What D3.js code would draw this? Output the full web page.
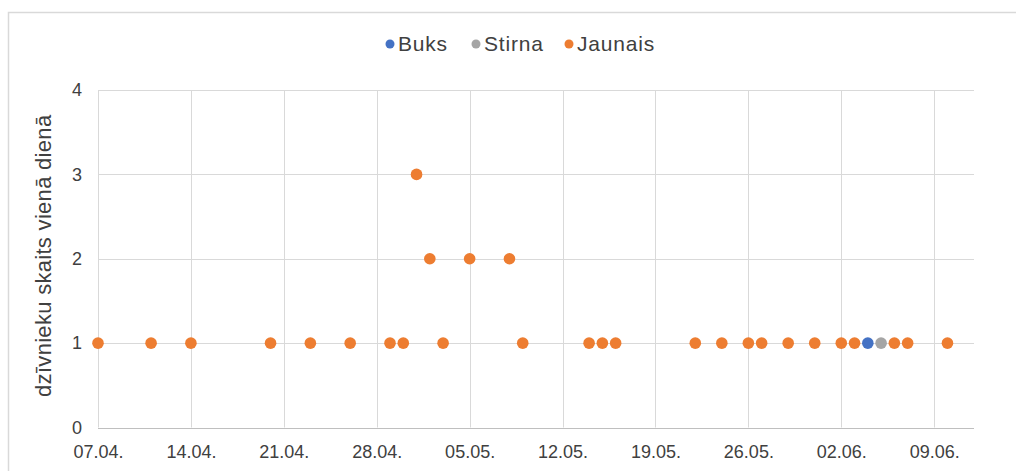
<!DOCTYPE html>
<html>
<head>
<meta charset="utf-8">
<script src="https://cdn.jsdelivr.net/npm/d3@7"></script>
<style>
  html, body { margin: 0; padding: 0; background: #fff; }
  svg { display: block; font-family: "Liberation Sans", Arial, sans-serif; }
</style>
</head>
<body>
<svg id="chart" width="1016" height="471"></svg>
<script>
// ---- data ----
const seriesNames = ["Buks", "Stirna", "Jaunais"];
const seriesColors = ["#4472C4", "#A5A5A5", "#ED7D31"];

const buksDates = ["2021-06-04"];
const buksValues = [1];

const stirnaDates = ["2021-06-05"];
const stirnaValues = [1];

const jaunaisDates = [
  "2021-04-07", "2021-04-11", "2021-04-14", "2021-04-20", "2021-04-23", "2021-04-26",
  "2021-04-29", "2021-04-30", "2021-05-01", "2021-05-02", "2021-05-03", "2021-05-05",
  "2021-05-08", "2021-05-09", "2021-05-14", "2021-05-15", "2021-05-16", "2021-05-22",
  "2021-05-24", "2021-05-26", "2021-05-27", "2021-05-29", "2021-05-31", "2021-06-02",
  "2021-06-03", "2021-06-06", "2021-06-07", "2021-06-10"
];
const jaunaisValues = [
  1, 1, 1, 1, 1, 1,
  1, 1, 3, 2, 1, 2,
  2, 1, 1, 1, 1, 1,
  1, 1, 1, 1, 1, 1,
  1, 1, 1, 1
];

const xTickDates = ["2021-04-07", "2021-04-14", "2021-04-21", "2021-04-28", "2021-05-05",
  "2021-05-12", "2021-05-19", "2021-05-26", "2021-06-02", "2021-06-09"];
const xTickLabels = ["07.04.", "14.04.", "21.04.", "28.04.", "05.05.",
  "12.05.", "19.05.", "26.05.", "02.06.", "09.06."];
const yTicks = [0, 1, 2, 3, 4];
const xDomain = ["2021-04-07", "2021-06-12"];
const yTitle = "dzīvnieku skaits vienā dienā";

// ---- drawing ----
const parse = d3.utcParse("%Y-%m-%d");
const svg = d3.select("#chart");

const plot = { left: 98, right: 974, top: 90, bottom: 427.5 };

const x = d3.scaleUtc().domain(xDomain.map(parse)).range([plot.left, plot.right]);
const y = d3.scaleLinear().domain([0, 4]).range([plot.bottom, plot.top]);

// chart-area border
svg.append("rect")
  .attr("x", 8.5).attr("y", 12.5).attr("width", 1100).attr("height", 600)
  .attr("fill", "#fff").attr("stroke", "#d9d9d9").attr("stroke-width", 1.5);

// horizontal gridlines
svg.append("g")
  .selectAll("line")
  .data(yTicks.filter(d => d > 0))
  .join("line")
  .attr("x1", plot.left).attr("x2", plot.right)
  .attr("y1", d => Math.round(y(d)) + 0.5).attr("y2", d => Math.round(y(d)) + 0.5)
  .attr("stroke", "#d9d9d9").attr("stroke-width", 1);

// vertical gridlines
svg.append("g")
  .selectAll("line")
  .data(xTickDates.map(parse))
  .join("line")
  .attr("x1", d => Math.round(x(d)) + 0.5).attr("x2", d => Math.round(x(d)) + 0.5)
  .attr("y1", plot.top).attr("y2", plot.bottom)
  .attr("stroke", "#d9d9d9").attr("stroke-width", 1);

// bottom axis line
svg.append("line")
  .attr("x1", plot.left).attr("x2", plot.right)
  .attr("y1", Math.round(y(0)) + 0.5).attr("y2", Math.round(y(0)) + 0.5)
  .attr("stroke", "#bfbfbf").attr("stroke-width", 1);

// x axis labels
const xAxis = d3.axisBottom(x)
  .tickValues(xTickDates.map(parse))
  .tickFormat((d, i) => xTickLabels[i])
  .tickSize(0).tickPadding(18);
const gx = svg.append("g").attr("transform", `translate(0,${plot.bottom})`).call(xAxis);
gx.select(".domain").remove();
gx.selectAll("text").attr("font-size", 18).attr("fill", "#404040")
  .attr("font-family", "'Liberation Sans', Arial, sans-serif");

// y axis labels
const yAxis = d3.axisLeft(y).tickValues(yTicks).tickFormat(d3.format("d")).tickSize(0).tickPadding(16);
const gy = svg.append("g").attr("transform", `translate(${plot.left},0)`).call(yAxis);
gy.select(".domain").remove();
gy.selectAll("text").attr("font-size", 18).attr("fill", "#404040")
  .attr("font-family", "'Liberation Sans', Arial, sans-serif");

// y title
svg.append("text")
  .attr("transform", `translate(51,${(plot.top + plot.bottom) / 2 - 3}) rotate(-90)`)
  .attr("text-anchor", "middle")
  .attr("font-size", 22)
  .attr("letter-spacing", 0.3)
  .attr("fill", "#404040")
  .text(yTitle);

// series
const series = [
  { name: seriesNames[2], color: seriesColors[2], dates: jaunaisDates, values: jaunaisValues },
  { name: seriesNames[0], color: seriesColors[0], dates: buksDates, values: buksValues },
  { name: seriesNames[1], color: seriesColors[1], dates: stirnaDates, values: stirnaValues }
];
series.forEach(s => {
  svg.append("g")
    .selectAll("circle")
    .data(s.dates.map((d, i) => ({ date: parse(d), value: s.values[i] })))
    .join("circle")
    .attr("cx", d => x(d.date))
    .attr("cy", d => y(d.value))
    .attr("r", 5.8)
    .attr("fill", s.color);
});

// legend
const legendDotX = [390, 476, 569];
const legend = svg.append("g");
seriesNames.forEach((n, i) => {
  legend.append("circle")
    .attr("cx", legendDotX[i]).attr("cy", 44).attr("r", 4.5)
    .attr("fill", seriesColors[i]);
  legend.append("text")
    .attr("x", legendDotX[i] + 8).attr("y", 44)
    .attr("dy", "0.35em")
    .attr("font-size", 21)
    .attr("letter-spacing", 0.8)
    .attr("fill", "#404040")
    .text(n);
});
</script>
</body>
</html>
